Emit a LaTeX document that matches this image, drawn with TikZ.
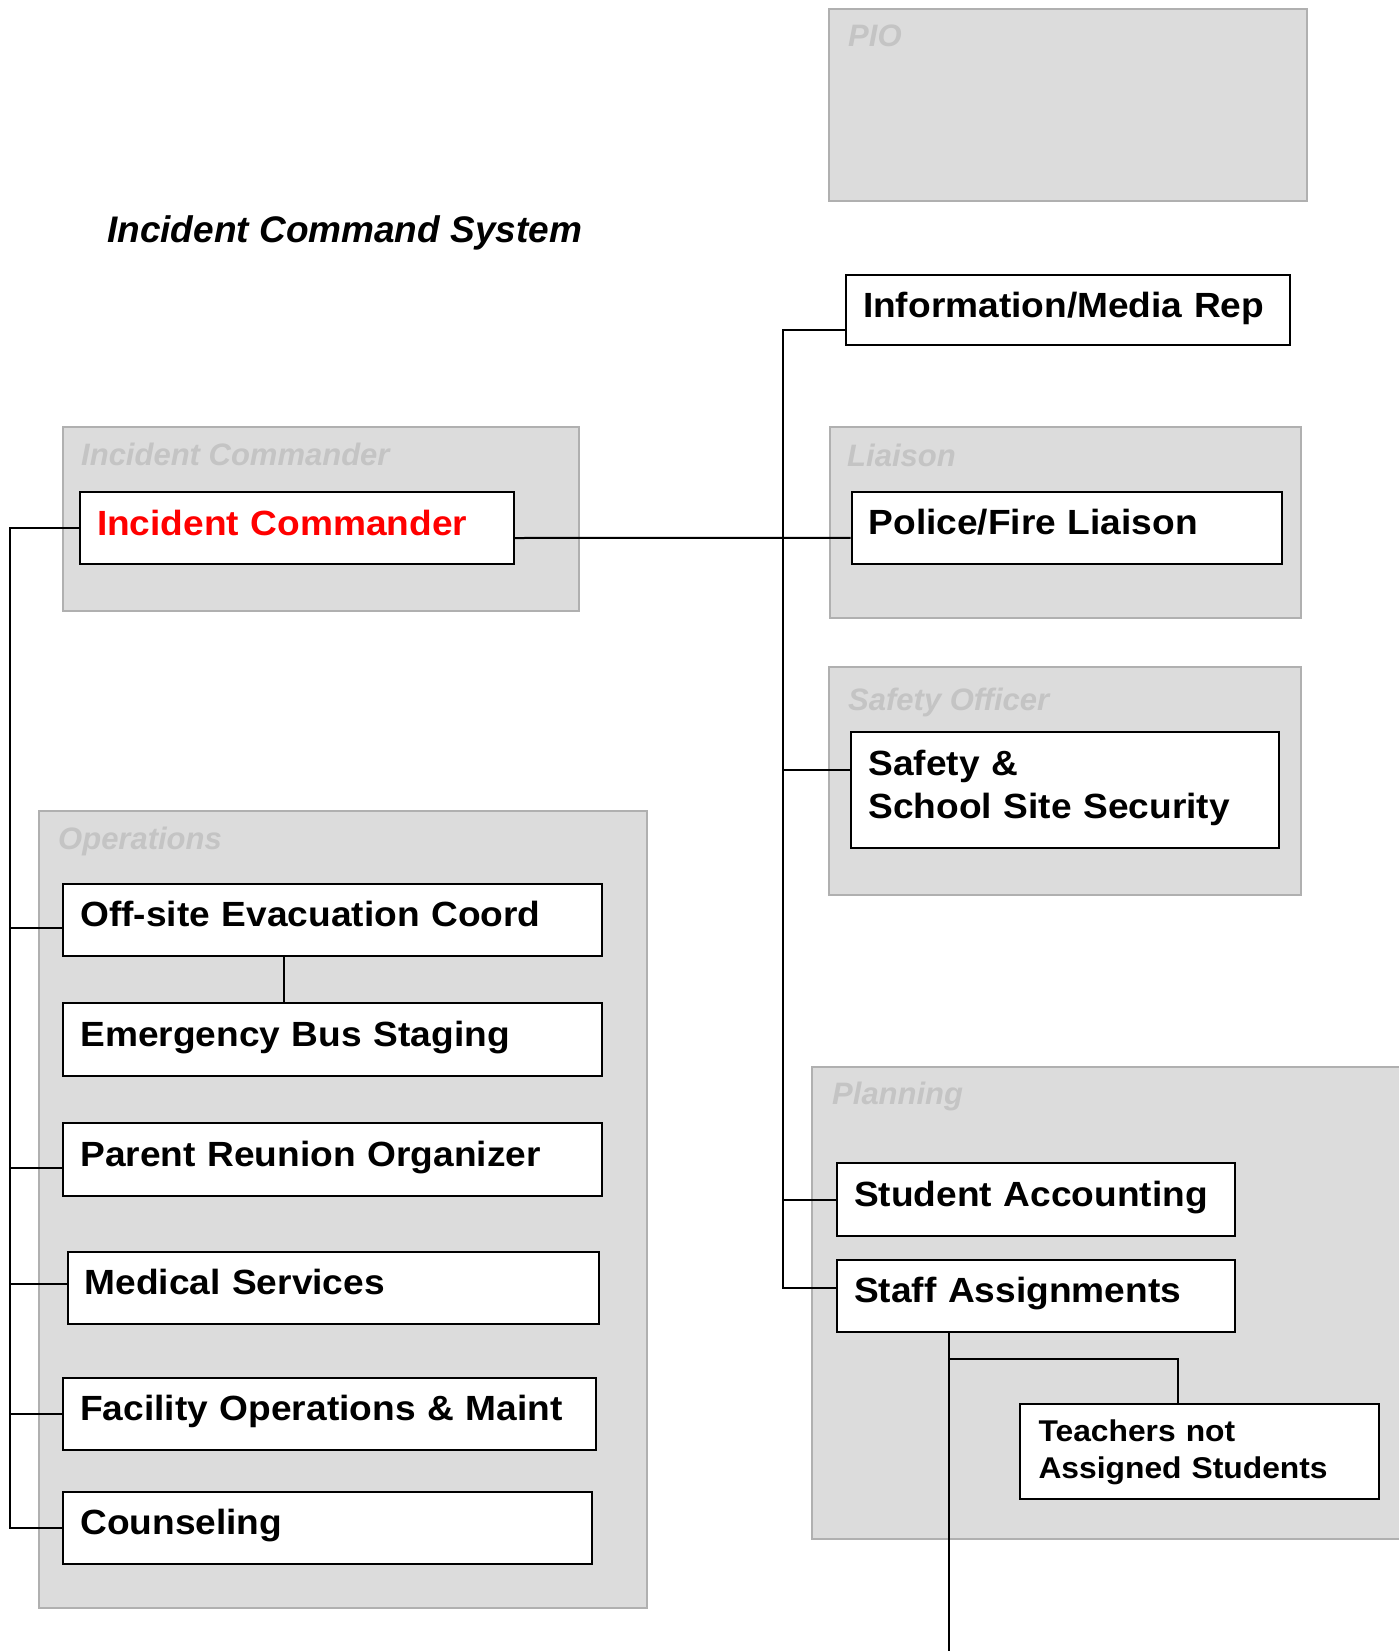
\documentclass[tikz,border=0pt]{standalone}
\usepackage{fontspec}
\setmainfont{Liberation Sans}
\newfontfamily\boxfont[FakeStretch=1.06]{Liberation Sans}
\definecolor{groupfill}{HTML}{DCDCDC}
\definecolor{groupline}{HTML}{B0B0B0}
\definecolor{grouptext}{HTML}{C4C4C4}
\begin{document}
\begin{tikzpicture}[x=1pt, y=-1pt,
    group/.style={fill=groupfill, draw=groupline, line width=2pt},
    grouplabel/.style={anchor=base west, inner sep=0pt, text=grouptext,
        font=\fontsize{31}{37}\selectfont\bfseries\itshape},
    role/.style={draw=black, line width=2pt, fill=white, anchor=north west,
        inner xsep=17pt, inner ysep=0pt, align=left, text height=27pt, text depth=13pt,
        font=\boxfont\fontsize{35}{43}\selectfont\bfseries},
    link/.style={draw=black, line width=2pt}]
    \useasboundingbox (0,0) rectangle (1398,1651);

    % grey groups
    \filldraw[group] (829,9) rectangle (1307,201);
    \filldraw[group] (63,427) rectangle (579,611);
    \filldraw[group] (829.5,427) rectangle (1301,618);
    \filldraw[group] (828.5,667) rectangle (1301,895);
    \filldraw[group] (39,811) rectangle (647,1608);
    \filldraw[group] (812,1067) rectangle (1400,1539);

    \node[grouplabel] (pio) at (848,47) {PIO};
    \node[grouplabel] (iclabel) at (81,465) {Incident Commander};
    \node[grouplabel] (liaison) at (847,466) {Liaison};
    \node[grouplabel] (safetyofficer) at (848,710) {Safety Officer};
    \node[grouplabel] (operations) at (58,849) {Operations};
    \node[grouplabel] (planning) at (832,1104) {Planning};

    \node[anchor=base west, inner sep=0pt, font=\fontsize{37}{44}\selectfont\bfseries\itshape]
        (title) at (107,242) {Incident Command System};

    % roles
    \node[role, text width=409.5pt, minimum height=70pt] (info) at (845,274) {Information/Media Rep};
    \node[role, text width=400pt, minimum height=72pt, text=red] (ic) at (79,491) {Incident Commander};
    \node[role, text width=396.4pt, minimum height=72.4pt] (police) at (850.6,490.6) {Police/Fire Liaison};
    \node[role, text width=393.3pt, minimum height=116pt, text depth=56pt] (safety) at (850.4,730.7)
        {Safety \&\\School Site Security};

    \node[role, text width=504.7pt, minimum height=72.3pt] (off) at (62.3,882.7) {Off-site Evacuation Coord};
    \node[role, text width=504.7pt, minimum height=72.7pt] (bus) at (62.3,1002.3) {Emergency Bus Staging};
    \node[role, text width=504.7pt, minimum height=73pt] (parent) at (62.3,1122) {Parent Reunion Organizer};
    \node[role, text width=497pt, minimum height=72pt] (med) at (66.5,1250.6) {Medical Services};
    \node[role, text width=498.7pt, minimum height=72.3pt] (fac) at (62.3,1376.7) {Facility Operations \& Maint};
    \node[role, text width=495pt, minimum height=72pt] (cnsl) at (62.3,1490.7) {Counseling};

    \node[role, text width=363.6pt, minimum height=73pt] (student) at (836,1162) {Student Accounting};
    \node[role, text width=363.6pt, minimum height=72pt] (staff) at (836,1258.9) {Staff Assignments};
    \node[role, text width=321.3pt, minimum height=95.8pt, inner xsep=19pt,
        text height=25pt, text depth=46pt, font=\boxfont\fontsize{30}{37}\selectfont\bfseries]
        (teach) at (1018.5,1402.6) {Teachers not\\Assigned Students};

    % left branch
    \coordinate (ltrunk) at (10,0);
    \draw[link] (ic.west) -| (ltrunk |- cnsl.west) -- (cnsl.west);
    \foreach \n/\dy in {off/-8, parent/-8, med/4, fac/0} {
        \coordinate (\n-in) at ([yshift=\dy pt]\n.west);
        \draw[link] (\n-in) -- (ltrunk |- \n-in);
    }
    \draw[link] ([xshift=-49pt]off.south) -- ([xshift=-49pt]bus.north);

    % right branch
    \coordinate (rtrunk) at (783,0);
    \coordinate (info-in) at ([yshift=-20pt]info.west);
    \coordinate (safety-in) at ([yshift=20pt]safety.west);
    \coordinate (staff-in) at ([yshift=8pt]staff.west);
    \draw[link] (info-in) -| (rtrunk |- staff-in) -- (staff-in);
    \draw[link] (safety-in) -- (rtrunk |- safety-in);
    \draw[link] (student.west) -- (rtrunk |- student.west);
    \draw[link] ([yshift=-10pt]ic.east) -- ([yshift=-10pt]police.west);

    % under staff assignments
    \coordinate (sdown) at (948.7,1651);
    \coordinate (tjoint) at (1178.3,1358.5);
    \draw[link] (staff.south -| sdown) -- (sdown);
    \draw[link] (sdown |- tjoint) -- (tjoint) -- (tjoint |- teach.north);
\end{tikzpicture}
\end{document}
